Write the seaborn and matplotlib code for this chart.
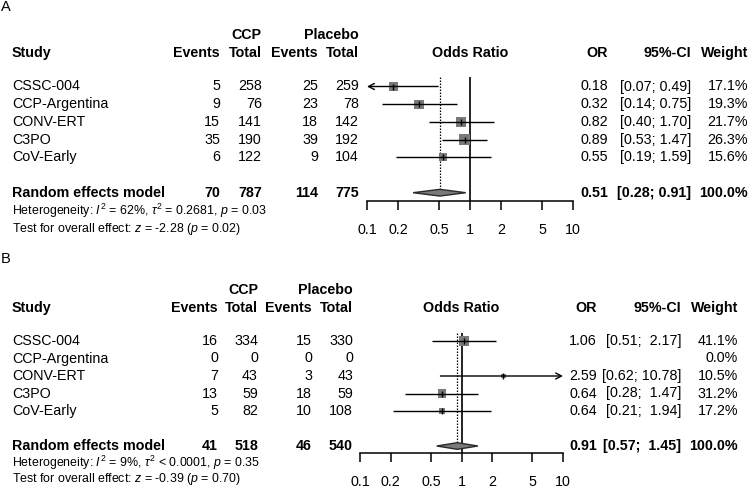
import numpy as np
import pandas as pd
import matplotlib
matplotlib.use("Agg")
import matplotlib.pyplot as plt
import seaborn as sns
from matplotlib.transforms import blended_transform_factory

# ---------------- data ----------------
studies = ["CSSC-004", "CCP-Argentina", "CONV-ERT", "C3PO", "CoV-Early"]

a_ccp_events = [5, 9, 15, 35, 6]
a_ccp_total = [258, 76, 141, 190, 122]
a_pla_events = [25, 23, 18, 39, 9]
a_pla_total = [259, 78, 142, 192, 104]
a_or = [0.18, 0.32, 0.82, 0.89, 0.55]
a_lo = [0.07, 0.14, 0.40, 0.53, 0.19]
a_hi = [0.49, 0.75, 1.70, 1.47, 1.59]
a_weight = [17.1, 19.3, 21.7, 26.3, 15.6]
a_summary = [0.51, 0.28, 0.91]          # OR, lower, upper
a_het = ["62%", "= 0.2681", "0.03"]     # I2, tau2, p
a_test = ["-2.28", "0.02"]              # z, p

b_ccp_events = [16, 0, 7, 13, 5]
b_ccp_total = [334, 0, 43, 59, 82]
b_pla_events = [15, 0, 3, 18, 10]
b_pla_total = [330, 0, 43, 59, 108]
b_or = [1.06, np.nan, 2.59, 0.64, 0.64]
b_lo = [0.51, np.nan, 0.62, 0.28, 0.21]
b_hi = [2.17, np.nan, 10.78, 1.47, 1.94]
b_weight = [41.1, 0.0, 10.5, 31.2, 17.2]
b_summary = [0.91, 0.57, 1.45]
b_het = ["9%", "< 0.0001", "0.35"]
b_test = ["-0.39", "0.70"]

tick_values = [0.1, 0.2, 0.5, 1, 2, 5, 10]
tick_labels = ["0.1", "0.2", "0.5", "1", "2", "5", "10"]

# ---------------- style ----------------
sns.set_theme(style="white")
plt.rcParams["font.family"] = ["Liberation Sans", "DejaVu Sans"]
plt.rcParams["text.color"] = "black"
plt.rcParams["xtick.color"] = "black"
plt.rcParams["axes.edgecolor"] = "black"
plt.rcParams["mathtext.fontset"] = "custom"
plt.rcParams["mathtext.rm"] = "Liberation Sans"
plt.rcParams["mathtext.it"] = "Liberation Sans:italic"
plt.rcParams["mathtext.bf"] = "Liberation Sans:bold"

W, H = 750, 488
FS = 10.3
FS_HET = 8.9
fig = plt.figure(figsize=(W / 100, H / 100), dpi=100)


def fmt_ci(lo, hi, wl, wh):
    return "[" + f"{lo:.2f}".rjust(wl) + "; " + f"{hi:.2f}".rjust(wh) + "]"


def draw_panel(label, ce, ct, pe, pt, orv, lo, hi, wt, summ, het, test, lay):
    row0, dy = lay["row0"], lay["dy"]
    r_top = (lay["ax_top"] - row0) / dy
    r_bot = (lay["ax_bottom"] - row0) / dy
    ax = fig.add_axes([lay["ax_left"] / W, 1 - lay["ax_bottom"] / H,
                       (lay["ax_right"] - lay["ax_left"]) / W,
                       (lay["ax_bottom"] - lay["ax_top"]) / H])
    ax.set_xscale("log")
    ax.set_xlim(tick_values[0], tick_values[-1])
    ax.set_ylim(r_bot, r_top)
    xmin, xmax = tick_values[0], tick_values[-1]
    n = len(studies)
    rows = np.arange(n)
    sum_row = n + 1

    # reference lines
    ax.axvline(1, color="black", lw=1.2, zorder=1)
    ax.vlines(summ[0], r_top, sum_row, colors="black", linestyles=(0, (1.2, 1.2)), lw=0.9, zorder=1)

    # squares via seaborn
    df = pd.DataFrame({"row": rows, "or": orv, "w": wt}).dropna()
    sns.scatterplot(data=df, x="or", y="row", size="w", sizes=(0, lay["max_area"]),
                    size_norm=(0, max(wt)), marker="s", color="#7a7a7a",
                    edgecolor="none", linewidth=0, legend=False, ax=ax, zorder=2)
    ax.scatter(df["or"], df["row"], marker="|", s=14, color="black", linewidths=1.0, zorder=4)

    # CI lines / arrows
    for r, l, h in zip(rows, lo, hi):
        if np.isnan(l):
            continue
        lc, hc = max(l, xmin), min(h, xmax)
        aprops = dict(arrowstyle="->,head_length=0.35,head_width=0.18", lw=1.0,
                      color="black", shrinkA=0, shrinkB=0)
        if l < xmin:
            ax.annotate("", xy=(lc, r), xytext=(hc, r), arrowprops=aprops, zorder=3)
        elif h > xmax:
            ax.annotate("", xy=(hc, r), xytext=(lc, r), arrowprops=aprops, zorder=3)
        else:
            ax.hlines(r, lc, hc, colors="black", lw=1.0, zorder=3)

    # summary diamond
    e, sl, sh = summ
    hh = 0.19
    ax.fill([sl, e, sh, e], [sum_row, sum_row - hh, sum_row, sum_row + hh],
            facecolor="#7a7a7a", edgecolor="#2a2a2a", lw=1.0, zorder=4)

    # axis styling
    for s in ["top", "left", "right"]:
        ax.spines[s].set_visible(False)
    ax.spines["bottom"].set_linewidth(1.1)
    ax.set_yticks([])
    ax.set_xticks(tick_values)
    ax.set_xticklabels(tick_labels)
    ax.xaxis.set_minor_locator(matplotlib.ticker.NullLocator())
    ax.tick_params(axis="x", direction="out", length=6.3, width=1.1, pad=9.5,
                   labelsize=FS, bottom=True)
    ax.set_xlabel("")
    ax.set_ylabel("")
    ax.patch.set_alpha(0)

    tr = blended_transform_factory(fig.transFigure, ax.transData)

    def t(xpx, y, s, ha="right", bold=False, fs=FS):
        fig.text(xpx / W, y, s, transform=tr, ha=ha, va="center", fontsize=fs,
                 fontweight="bold" if bold else "normal")

    # panel label
    fig.text(1 / W, 1 - lay["label_y"] / H, label, ha="left", va="center", fontsize=10.5)

    hy1, hy2 = -2.9, -1.9
    c = lay["cols"]
    t(lay["ccp_x"], hy1, "CCP", ha="center", bold=True)
    t(c[3], hy1, "Placebo", bold=True)
    t(12, hy2, "Study", ha="left", bold=True)
    t(c[0], hy2, "Events", bold=True)
    t(c[1], hy2, "Total", bold=True)
    t(c[2], hy2, "Events", bold=True)
    t(c[3], hy2, "Total", bold=True)
    ax.text(1, hy2, "Odds Ratio", ha="center", va="center", fontsize=FS, fontweight="bold",
            clip_on=False)
    t(lay["or_x"], hy2, "OR", bold=True)
    t(lay["ci_x"], hy2, "95%-CI", bold=True)
    t(lay["w_x"], hy2, "Weight", bold=True)

    valid_lo = [f"{v:.2f}" for v in lo if not np.isnan(v)] + [f"{summ[1]:.2f}"]
    valid_hi = [f"{v:.2f}" for v in hi if not np.isnan(v)] + [f"{summ[2]:.2f}"]
    wl = max(len(s) for s in valid_lo)
    wh = max(len(s) for s in valid_hi)

    for r in rows:
        t(12, r, studies[r], ha="left")
        t(c[0], r, str(ce[r]))
        t(c[1], r, str(ct[r]))
        t(c[2], r, str(pe[r]))
        t(c[3], r, str(pt[r]))
        if not np.isnan(orv[r]):
            t(lay["or_x"], r, f"{orv[r]:.2f}")
            t(lay["ci_x"], r, fmt_ci(lo[r], hi[r], wl, wh))
        t(lay["w_x"], r, f"{wt[r]:.1f}%")

    t(12, sum_row, "Random effects model", ha="left", bold=True)
    t(c[0], sum_row, str(sum(ce)), bold=True)
    t(c[1], sum_row, str(sum(ct)), bold=True)
    t(c[2], sum_row, str(sum(pe)), bold=True)
    t(c[3], sum_row, str(sum(pt)), bold=True)
    t(lay["or_x"], sum_row, f"{summ[0]:.2f}", bold=True)
    t(lay["ci_x"], sum_row, fmt_ci(summ[1], summ[2], wl, wh), bold=True)
    t(lay["w_x"], sum_row, "100.0%", bold=True)

    het_txt = ("Heterogeneity: $I^2$ = " + het[0] + r", $\tau^2$ " + het[1] +
               ", $p$ = " + het[2])
    test_txt = "Test for overall effect: $z$ = " + test[0] + " ($p$ = " + test[1] + ")"
    t(12, lay["het_r"], het_txt, ha="left", fs=FS_HET)
    t(12, lay["test_r"], test_txt, ha="left", fs=FS_HET)
    return ax


lay_a = dict(label_y=7, row0=86.5, dy=17.7, ax_left=367, ax_right=573, ax_top=77,
             ax_bottom=200.7, cols=[220, 262, 318, 359], or_x=608, ci_x=691, w_x=748,
             ccp_x=246, het_r=7.05, test_r=8.05, max_area=58)
lay_b = dict(label_y=259, row0=341, dy=17.5, ax_left=360, ax_right=563, ax_top=333,
             ax_bottom=453.3, cols=[218, 258, 312, 353], or_x=597, ci_x=681, w_x=738,
             ccp_x=243, het_r=6.95, test_r=7.9, max_area=46)

draw_panel("A", a_ccp_events, a_ccp_total, a_pla_events, a_pla_total, a_or, a_lo, a_hi,
           a_weight, a_summary, a_het, a_test, lay_a)
draw_panel("B", b_ccp_events, b_ccp_total, b_pla_events, b_pla_total, b_or, b_lo, b_hi,
           b_weight, b_summary, b_het, b_test, lay_b)

fig.savefig("out.png", dpi=100)
